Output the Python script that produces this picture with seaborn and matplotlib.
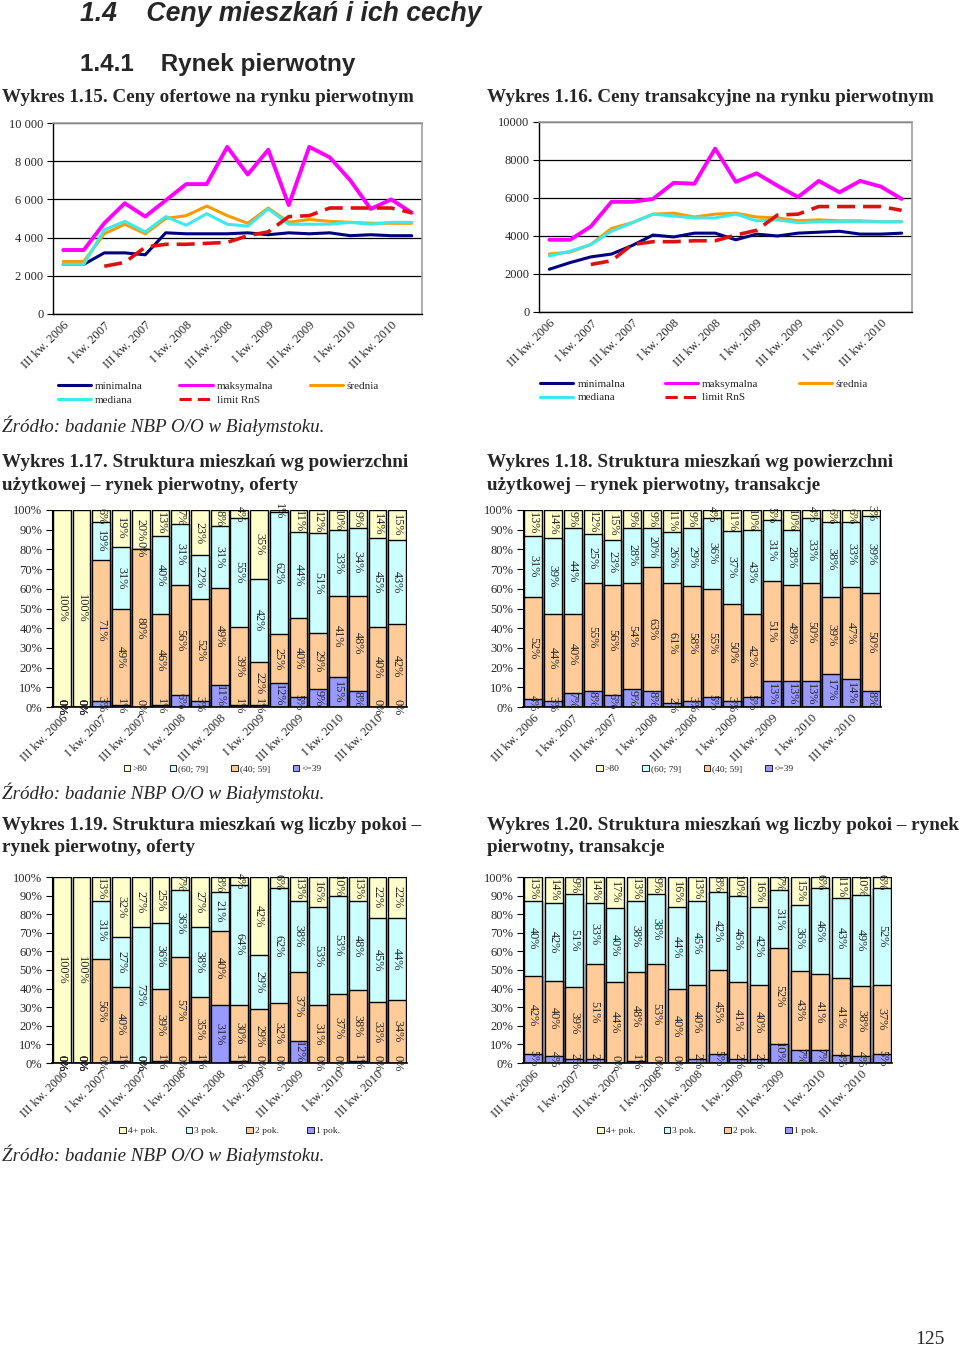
import numpy as np
import pandas as pd
import matplotlib
matplotlib.use("Agg")
import matplotlib.pyplot as plt
from matplotlib.patches import Patch
from matplotlib.lines import Line2D
import seaborn as sns

sns.set_style("white")
plt.rcParams['font.family'] = ['Liberation Serif', 'DejaVu Serif']

# ============================================================================
# Data
# ============================================================================
quarters = ["III kw. 2006", "IV kw. 2006", "I kw. 2007", "II kw. 2007", "III kw. 2007",
            "IV kw. 2007", "I kw. 2008", "II kw. 2008", "III kw. 2008", "IV kw. 2008",
            "I kw. 2009", "II kw. 2009", "III kw. 2009", "IV kw. 2009", "I kw. 2010",
            "II kw. 2010", "III kw. 2010", "IV kw. 2010"]
nan = np.nan

# Wykres 1.15 - ceny ofertowe
off_min = [2600, 2600, 3200, 3200, 3100, 4250, 4200, 4200, 4200, 4250, 4150, 4250, 4200, 4250, 4100, 4150, 4100, 4100]
off_max = [3350, 3350, 4750, 5800, 5100, 5950, 6800, 6800, 8750, 7300, 8600, 5700, 8750, 8200, 7000, 5500, 6000, 5300]
off_avg = [2750, 2750, 4200, 4700, 4200, 5000, 5150, 5650, 5150, 4750, 5550, 4800, 4950, 4850, 4800, 4750, 4750, 4750]
off_med = [2600, 2600, 4400, 4850, 4300, 5100, 4650, 5250, 4700, 4600, 5500, 4700, 4700, 4700, 4800, 4700, 4800, 4800]
off_rns = [nan, nan, 2500, 2700, 3500, 3650, 3650, 3700, 3750, 4100, 4300, 5100, 5150, 5550, 5550, 5550, 5550, 5300]

# Wykres 1.16 - ceny transakcyjne
tr_min = [2250, 2600, 2900, 3050, 3500, 4050, 3950, 4150, 4150, 3800, 4100, 4000, 4150, 4200, 4250, 4100, 4100, 4150]
tr_max = [3800, 3800, 4500, 5800, 5800, 5950, 6800, 6750, 8600, 6850, 7300, 6650, 6050, 6900, 6300, 6900, 6600, 5950]
tr_avg = [3050, 3150, 3550, 4400, 4700, 5150, 5200, 5000, 5150, 5200, 5000, 4950, 4800, 4850, 4800, 4800, 4750, 4750]
tr_med = [2950, 3200, 3550, 4250, 4700, 5150, 5050, 4950, 4950, 5150, 4800, 4850, 4700, 4750, 4750, 4750, 4750, 4750]
tr_rns = [nan, nan, 2500, 2700, 3550, 3700, 3700, 3750, 3750, 4050, 4300, 5100, 5150, 5550, 5550, 5550, 5550, 5350]

line_names = ["minimalna", "maksymalna", "średnia", "mediana", "limit RnS"]

# Wykres 1.17 - struktura wg powierzchni, oferty (%)
area_labels = ["<=39", "(40; 59]", "(60; 79]", ">80"]
off_a39 = [0, 0, 3, 1, 0, 1, 6, 3, 11, 1, 1, 12, 5, 9, 15, 8, 0, 0]
off_a59 = [0, 0, 71, 49, 80, 46, 56, 52, 49, 39, 22, 25, 40, 29, 41, 48, 40, 42]
off_a79 = [0, 0, 19, 31, 0, 40, 31, 22, 31, 55, 42, 62, 44, 51, 33, 34, 45, 43]
off_a80 = [100, 100, 6, 19, 20, 13, 7, 23, 8, 4, 35, 1, 11, 12, 10, 9, 14, 15]

# Wykres 1.18 - struktura wg powierzchni, transakcje (%)
tr_a39 = [4, 3, 7, 8, 6, 9, 8, 2, 3, 5, 3, 5, 13, 13, 13, 17, 14, 8]
tr_a59 = [52, 44, 40, 55, 56, 54, 63, 61, 58, 55, 50, 42, 51, 49, 50, 39, 47, 50]
tr_a79 = [31, 39, 44, 25, 23, 28, 20, 26, 29, 36, 37, 43, 31, 28, 33, 38, 33, 39]
tr_a80 = [13, 14, 9, 12, 15, 9, 9, 11, 9, 4, 11, 10, 5, 10, 4, 6, 6, 3]

# Wykres 1.19 - struktura wg liczby pokoi, oferty (%)
room_labels = ["1 pok.", "2 pok.", "3 pok.", "4+ pok."]
off_r1 = [0, 0, 0, 1, 0, 1, 0, 1, 31, 1, 0, 0, 12, 0, 0, 1, 0, 0]
off_r2 = [0, 0, 56, 40, 0, 39, 57, 35, 40, 30, 29, 32, 37, 31, 37, 38, 33, 34]
off_r3 = [0, 0, 31, 27, 73, 36, 36, 38, 21, 64, 29, 62, 38, 53, 53, 48, 45, 44]
off_r4 = [100, 100, 13, 32, 27, 25, 7, 27, 8, 4, 42, 6, 13, 16, 10, 13, 22, 22]

# Wykres 1.20 - struktura wg liczby pokoi, transakcje (%)
tr_r1 = [5, 4, 2, 2, 0, 1, 0, 0, 2, 5, 2, 2, 10, 7, 7, 4, 4, 5]
tr_r2 = [42, 40, 39, 51, 44, 48, 53, 40, 40, 45, 41, 40, 52, 43, 41, 41, 38, 37]
tr_r3 = [40, 42, 51, 33, 40, 38, 38, 44, 45, 42, 46, 42, 31, 36, 46, 43, 49, 52]
tr_r4 = [13, 14, 9, 14, 17, 13, 9, 16, 13, 8, 10, 16, 7, 15, 6, 11, 10, 6]

# ============================================================================
# Styles
# ============================================================================
W, H = 960, 1350
fig = plt.figure(figsize=(W / 100, H / 100), dpi=100)
fig.patch.set_facecolor("white")

line_colors = ["#000080", "#FF00FF", "#FF9900", "#3DEAEA", "#E01010"]
bar_colors = ["#9999FF", "#FFCC99", "#CCFFFF", "#FFFFCC"]  # bottom -> top
SERIF = ['Liberation Serif', 'DejaVu Serif']
SANS = ['Liberation Sans', 'DejaVu Sans']


def px_axes(left, top, right, bottom):
    return fig.add_axes([left / W, 1 - bottom / H, (right - left) / W, (bottom - top) / H])


def set_quarter_axis(ax):
    n = len(quarters)
    ax.set_xlim(-0.5, n - 0.5)
    ax.set_xticks(range(0, n, 2))
    ax.set_xticklabels(quarters[::2], rotation=45, ha="right", rotation_mode="anchor",
                       fontsize=9, family=SERIF)
    ax.set_xticks(np.arange(-0.5, n, 1), minor=True)
    ax.tick_params(axis="x", which="major", length=0, pad=4)
    ax.tick_params(axis="x", which="minor", length=4, width=0.8, direction="out", color="black")
    ax.set_xlabel("")
    ax.set_ylabel("")


def line_chart(ax, series, ylabels, leg_x, colsp):
    xs = np.arange(len(quarters))
    for vals, col, name in zip(series, line_colors, line_names):
        df = pd.DataFrame({"x": xs, "y": vals}).dropna()
        if name == "limit RnS":
            sns.lineplot(data=df, x="x", y="y", ax=ax, color=col, lw=2.6,
                         linestyle=(0, (5, 2.2)), zorder=3)
        else:
            lw = 2.8 if name == "maksymalna" else 2.2
            sns.lineplot(data=df, x="x", y="y", ax=ax, color=col, lw=lw, zorder=3)
    ax.set_ylim(0, 10000)
    ax.set_yticks(range(0, 10001, 2000))
    ax.set_yticklabels(ylabels, fontsize=9, family=SERIF)
    ax.tick_params(axis="y", length=4, width=0.8, direction="out", color="black", pad=3,
                   left=True)
    ax.yaxis.grid(True, color="black", lw=0.9)
    ax.set_axisbelow(True)
    for s in ["top", "right"]:
        ax.spines[s].set_color("#A0A0A0")
        ax.spines[s].set_linewidth(1.2)
    for s in ["left", "bottom"]:
        ax.spines[s].set_color("black")
        ax.spines[s].set_linewidth(1.0)
    set_quarter_axis(ax)
    order = [0, 3, 1, 4, 2]
    handles = []
    for i in order:
        ls = (0, (4, 2)) if line_names[i] == "limit RnS" else "-"
        handles.append(Line2D([], [], color=line_colors[i], lw=2.2, linestyle=ls))
    ax.legend(handles, [line_names[i] for i in order], ncol=3, loc="upper left",
              bbox_to_anchor=(leg_x, -0.30), frameon=False,
              prop={"family": SERIF, "size": 8}, handlelength=3.0, columnspacing=colsp,
              handletextpad=0.35, labelspacing=0.35)


def bar_chart(ax, layers, names, leg_y, leg_x, colsp):
    arr = np.array(layers, dtype=float)
    totals = arr.sum(axis=0)
    norm = arr / totals * 100
    cum = np.cumsum(norm, axis=0)
    for k in range(len(layers) - 1, -1, -1):
        sns.barplot(x=quarters, y=cum[k], order=quarters, color=bar_colors[k], saturation=1,
                    edgecolor="black", linewidth=1.0, width=0.9, ax=ax, zorder=2)
    for k in range(len(layers)):
        below = cum[k] - norm[k]
        for i in range(len(quarters)):
            ax.text(i, below[i] + norm[k][i] / 2, f"{int(arr[k][i])}%", rotation=270,
                    ha="center", va="center", fontsize=8.8, family=SERIF, zorder=5)
    ax.set_ylim(0, 100)
    ax.set_yticks(range(0, 101, 10))
    ax.set_yticklabels([f"{v}%" for v in range(0, 101, 10)], fontsize=9, family=SERIF)
    ax.tick_params(axis="y", length=4, width=0.8, direction="out", color="black", pad=3,
                   left=True)
    for s in ["top", "right"]:
        ax.spines[s].set_visible(False)
    ax.spines["left"].set_color("black")
    ax.spines["bottom"].set_color("black")
    ax.spines["bottom"].set_linewidth(1.2)
    set_quarter_axis(ax)
    # legend placed at a pixel row below the axes
    bb = ax.get_position()
    ax_h = bb.height * H
    ax_bottom = (1 - bb.y0) * H
    anchor_y = -(leg_y - ax_bottom) / ax_h
    handles = [Patch(facecolor=bar_colors[k], edgecolor="black", lw=0.6) for k in (3, 2, 1, 0)]
    ax.legend(handles, [names[k] for k in (3, 2, 1, 0)], ncol=4, loc="center",
              bbox_to_anchor=(leg_x, anchor_y), frameon=False,
              prop={"family": SERIF, "size": 6.8}, handlelength=0.7, handleheight=0.7,
              columnspacing=colsp, handletextpad=0.2)


# ============================================================================
# Charts
# ============================================================================
ax1 = px_axes(53, 123, 422, 314)
line_chart(ax1, [off_min, off_max, off_avg, off_med, off_rns],
           ["0", "2 000", "4 000", "6 000", "8 000", "10 000"], -0.014, 3.3)

ax2 = px_axes(539, 122, 912, 312)
line_chart(ax2, [tr_min, tr_max, tr_avg, tr_med, tr_rns],
           ["0", "2000", "4000", "6000", "8000", "10000"], -0.024, 3.6)

ax3 = px_axes(52, 510, 407, 707)
bar_chart(ax3, [off_a39, off_a59, off_a79, off_a80], area_labels, 769, 0.48, 2.4)

ax4 = px_axes(523, 510, 881, 707)
bar_chart(ax4, [tr_a39, tr_a59, tr_a79, tr_a80], area_labels, 769, 0.48, 2.4)

ax5 = px_axes(52, 877, 407, 1063)
bar_chart(ax5, [off_r1, off_r2, off_r3, off_r4], room_labels, 1131, 0.50, 3.0)

ax6 = px_axes(523, 877, 892, 1063)
bar_chart(ax6, [tr_r1, tr_r2, tr_r3, tr_r4], room_labels, 1131, 0.50, 3.0)

# ============================================================================
# Page texts
# ============================================================================
def ptext(x, y, s, **kw):
    fig.text(x / W, 1 - y / H, s, va="center", **kw)


ptext(80, 14, "1.4    Ceny mieszkań i ich cechy", family=SANS, fontsize=19.2,
      fontweight="bold", style="italic")
ptext(80, 65, "1.4.1    Rynek pierwotny", family=SANS, fontsize=17.5, fontweight="bold")

TS = 13.8
ptext(2, 97, "Wykres 1.15. Ceny ofertowe na rynku pierwotnym", family=SERIF, fontsize=TS,
      fontweight="bold")
ptext(487, 97, "Wykres 1.16. Ceny transakcyjne na rynku pierwotnym", family=SERIF,
      fontsize=TS, fontweight="bold")

src = "Źródło: badanie NBP O/O w Białymstoku."
ptext(2, 426, src, family=SERIF, fontsize=13.7, style="italic")

ptext(2, 463, "Wykres 1.17. Struktura mieszkań wg powierzchni", family=SERIF, fontsize=TS,
      fontweight="bold")
ptext(2, 486, "użytkowej – rynek pierwotny, oferty", family=SERIF, fontsize=TS,
      fontweight="bold")
ptext(487, 463, "Wykres 1.18. Struktura mieszkań wg powierzchni", family=SERIF, fontsize=TS,
      fontweight="bold")
ptext(487, 486, "użytkowej – rynek pierwotny, transakcje", family=SERIF, fontsize=TS,
      fontweight="bold")

ptext(2, 793, src, family=SERIF, fontsize=13.7, style="italic")

ptext(2, 826, "Wykres 1.19. Struktura mieszkań wg liczby pokoi –", family=SERIF, fontsize=TS,
      fontweight="bold")
ptext(2, 848, "rynek pierwotny, oferty", family=SERIF, fontsize=TS, fontweight="bold")
ptext(487, 826, "Wykres 1.20. Struktura mieszkań wg liczby pokoi – rynek", family=SERIF,
      fontsize=TS, fontweight="bold")
ptext(487, 848, "pierwotny, transakcje", family=SERIF, fontsize=TS, fontweight="bold")

ptext(2, 1155, src, family=SERIF, fontsize=13.7, style="italic")

fig.text(945 / W, 1 - 1340 / H, "125", ha="right", va="center", family=SERIF, fontsize=14)

fig.savefig("out.png", dpi=100, facecolor="white")
